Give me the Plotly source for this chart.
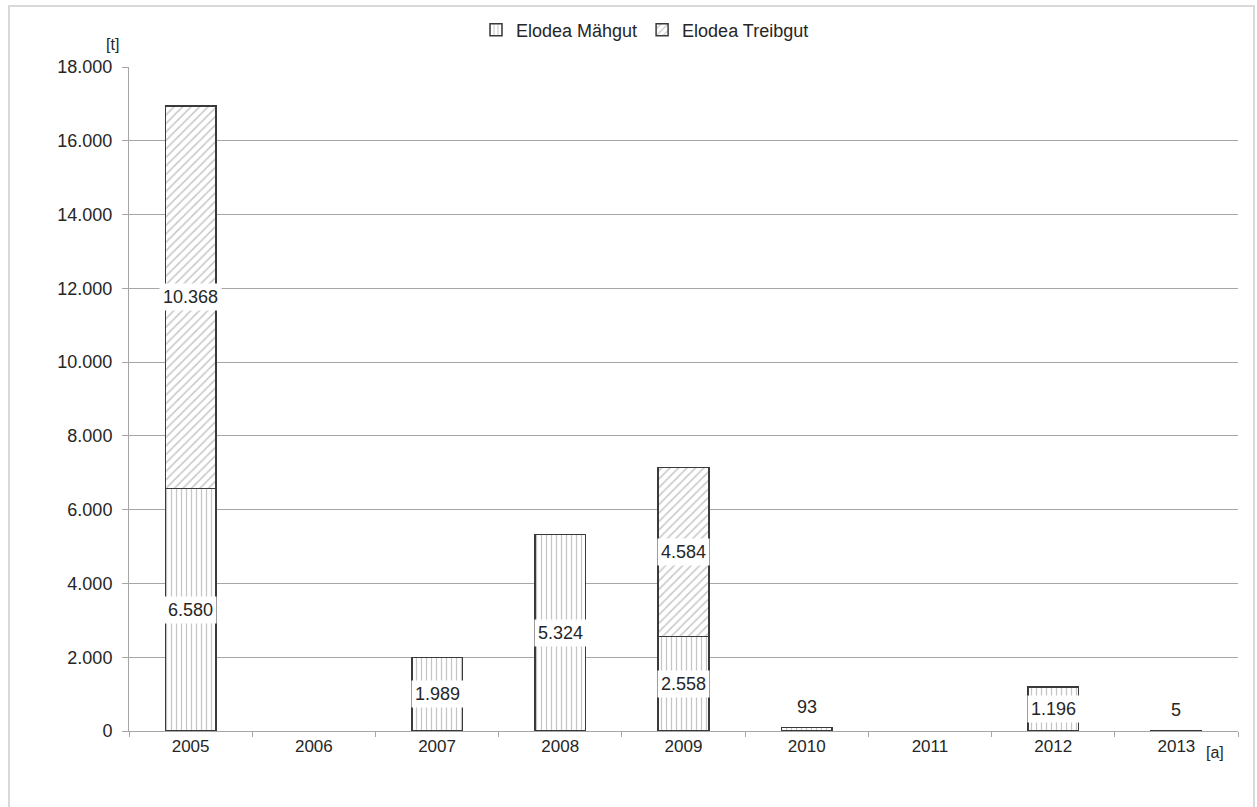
import plotly.graph_objects as go

# Elodea removal per year, tonnes
years = ["2005", "2006", "2007", "2008", "2009", "2010", "2011", "2012", "2013"]
maehgut = [6580, 0, 1989, 5324, 2558, 93, 0, 1196, 5]
treibgut = [10368, 0, 0, 0, 4584, 0, 0, 0, 0]

y_ticks = list(range(0, 18001, 2000))

W, H = 1257, 807
L, R, T, B = 129, 19, 67, 76

font_name = "Liberation Sans, Arial, sans-serif"
text_col = "#262626"
line_col = "#a6a6a6"
edge_col = "#3a3a3a"


def drawn(vals):
    # empty years get no bar outline at all
    return [v if v > 0 else None for v in vals]


fig = go.Figure()

fig.add_trace(go.Bar(
    x=years, y=drawn(maehgut), name="Elodea Mähgut",
    marker=dict(
        color="white",
        line=dict(color=edge_col, width=1.5),
        pattern=dict(shape="|", fgcolor="#8c8c8c", bgcolor="white", size=5, solidity=0.25),
    ),
))
fig.add_trace(go.Bar(
    x=years, y=drawn(treibgut), name="Elodea Treibgut",
    marker=dict(
        color="white",
        line=dict(color=edge_col, width=1.5),
        pattern=dict(shape="/", fgcolor="#8c8c8c", bgcolor="white", size=6, solidity=0.25),
    ),
))


def fmt(v):
    return f"{v:,}".replace(",", ".")


# value labels: centred in each segment, or just above very small bars
for i, yr in enumerate(years):
    base = 0
    for series in (maehgut, treibgut):
        v = series[i]
        if v > 0:
            if v >= 500:
                fig.add_annotation(
                    x=i, y=base + v / 2, text=fmt(v), showarrow=False,
                    font=dict(family=font_name, size=18, color=text_col),
                    bgcolor="white", borderpad=3, yanchor="middle",
                )
            else:
                fig.add_annotation(
                    x=i, y=base + v, text=fmt(v), showarrow=False,
                    font=dict(family=font_name, size=18, color=text_col),
                    yanchor="bottom", yshift=9,
                )
        base += v

pw, ph = W - L - R, H - T - B

# axis unit labels
fig.add_annotation(xref="paper", yref="paper", x=(104 - L) / pw,
                   y=(H - B - 34) / ph, text="[t]", showarrow=False,
                   font=dict(family=font_name, size=16, color=text_col))
fig.add_annotation(xref="paper", yref="paper", x=(1226 - L) / pw,
                   y=(H - B - 763) / ph, text="[a]", showarrow=False,
                   font=dict(family=font_name, size=16, color=text_col))

# outer chart frame
fig.add_shape(type="rect", xref="paper", yref="paper",
              x0=(9 - L) / pw, x1=(1254 - L) / pw,
              y0=(H - B - 820) / ph, y1=(H - B - 6) / ph,
              line=dict(color="#d9d9d9", width=2), layer="below")

fig.update_layout(
    width=W, height=H,
    margin=dict(l=L, r=R, t=T, b=B),
    barmode="stack", bargap=0.59,
    separators=",.",
    paper_bgcolor="white", plot_bgcolor="white",
    font=dict(family=font_name, size=17, color=text_col),
    showlegend=True,
    legend=dict(orientation="h", traceorder="normal",
                x=(645 - L) / pw, xanchor="center",
                y=(H - B - 30) / ph, yanchor="middle",
                font=dict(family=font_name, size=18, color=text_col),
                itemwidth=30, bgcolor="rgba(0,0,0,0)"),
    xaxis=dict(
        type="category", range=[-0.5, len(years) - 0.5], autorange=False,
        showline=True, linecolor=line_col, linewidth=1,
        ticks="outside", tickson="boundaries", ticklen=5, tickcolor=line_col,
        showgrid=False, tickfont=dict(size=17, color=text_col), tickangle=0,
    ),
    yaxis=dict(
        range=[0, 18000], tickvals=y_ticks, tickformat=",d",
        showline=True, linecolor=line_col, linewidth=1,
        ticks="outside", ticklen=6, tickcolor=line_col, ticklabelstandoff=6,
        showgrid=True, gridcolor=line_col, gridwidth=1,
        zeroline=False, tickfont=dict(size=18, color=text_col),
    ),
)

fig.write_html("out.html")
